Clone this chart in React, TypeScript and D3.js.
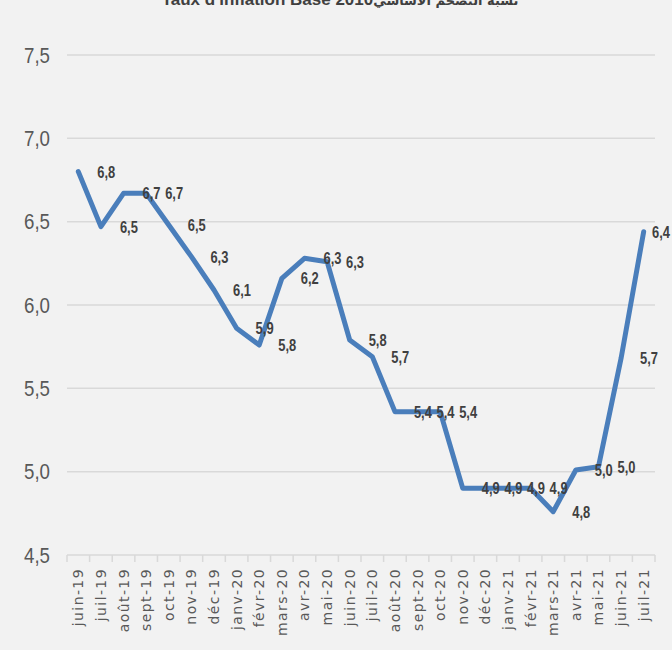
import React from 'react';
import * as d3 from 'd3';

const months = [
  'juin-19', 'juil-19', 'août-19', 'sept-19', 'oct-19', 'nov-19', 'déc-19',
  'janv-20', 'févr-20', 'mars-20', 'avr-20', 'mai-20', 'juin-20', 'juil-20',
  'août-20', 'sept-20', 'oct-20', 'nov-20', 'déc-20', 'janv-21', 'févr-21',
  'mars-21', 'avr-21', 'mai-21', 'juin-21', 'juil-21',
];

const inflation = [
  6.80, 6.47, 6.67, 6.67, 6.48, 6.29, 6.09, 5.86, 5.76, 6.16, 6.28, 6.26, 5.79,
  5.69, 5.36, 5.36, 5.36, 4.90, 4.90, 4.90, 4.90, 4.76, 5.01, 5.03, 5.68, 6.44,
];

const yTicks = [4.5, 5.0, 5.5, 6.0, 6.5, 7.0, 7.5];

const title = "Taux d'inflation Base  2010";
const titleAr = 'نسبة التضخم الأساسي';

const W = 672;
const H = 650;
const fmt = (v: number) => v.toFixed(1).replace('.', ',');

const App: React.FC = () => {
  const x = d3.scaleBand<string>().domain(months).range([67, 655]);
  const y = d3.scaleLinear().domain([4.5, 7.5]).range([555, 55]);
  const cx = (m: string) => (x(m) ?? 0) + x.bandwidth() / 2;

  const line = d3.line<number>()
    .x((_, i) => cx(months[i]))
    .y(d => y(d));

  const sans = '"Liberation Sans", Arial, sans-serif';

  return (
    <svg width={W} height={H} style={{ position: 'absolute', left: 0, top: 0, background: '#f2f2f2' }}>
      <rect x={0} y={0} width={W} height={H} fill="#f2f2f2" />

      {/* title, cut at top like the source */}
      <text x={340} y={5} textAnchor="middle" fontFamily={sans}
        fontWeight="bold" fontSize={17} fill="#404040">
        {title}<tspan fontFamily='"DejaVu Sans", sans-serif' fontSize={13}>{titleAr}</tspan>
      </text>

      {/* grid + y labels */}
      {yTicks.map(t => (
        <g key={t}>
          {t > 4.5 && (
            <line x1={67} x2={655} y1={y(t)} y2={y(t)} stroke="#d9d9d9" strokeWidth={1.5} />
          )}
          <text transform={`translate(37,${y(t)}) scale(0.85,1)`} dy="0.35em" textAnchor="middle"
            fontFamily={sans} fontSize={22} fill="#595959">{fmt(t)}</text>
        </g>
      ))}

      {/* x axis */}
      <line x1={67} x2={655} y1={555} y2={555} stroke="#d9d9d9" strokeWidth={1.5} />
      {[...months, null].map((m, i) => {
        const xx = m ? (x(m) ?? 0) : 655;
        return <line key={i} x1={xx} x2={xx} y1={555} y2={562} stroke="#d9d9d9" strokeWidth={1.5} />;
      })}
      {months.map(m => (
        <text key={m} transform={`translate(${cx(m) + 5},568) rotate(-90)`} textAnchor="end"
          fontFamily='"DejaVu Sans", Verdana, sans-serif' fontSize={14} letterSpacing={1.4}
          fill="#595959">{m}</text>
      ))}

      {/* series */}
      <path d={line(inflation) ?? ''} fill="none" stroke="#4a7ebb" strokeWidth={5}
        strokeLinejoin="round" strokeLinecap="round" />

      {inflation.map((v, i) => (
        <text key={i}
          transform={`translate(${Math.min(cx(months[i]) + 19, 652)},${y(v)}) scale(0.76,1)`}
          dy="0.35em" fontFamily={sans} fontWeight="bold" fontSize={17} fill="#404040">{fmt(v)}</text>
      ))}
    </svg>
  );
};

export default App;
